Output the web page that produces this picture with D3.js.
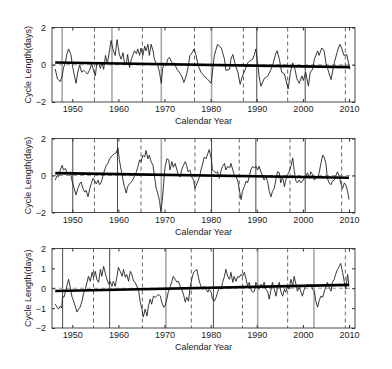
<!DOCTYPE html>
<html lang="en">
<head>
	<meta charset="UTF-8">
	<title>Cycle length</title>
	<script src="https://cdn.jsdelivr.net/npm/d3@7"></script>
	<style>
		body { margin: 0; background: #fff; }
		text { font-family: "Liberation Sans", Arial, sans-serif; font-size: 9px; fill: #222; }
	</style>
</head>
<body>
<script type="text/javascript">
	// values
	var p1Years = [1946.3, 1946.8, 1947.4, 1947.8, 1948.1, 1948.5, 1948.8, 1949.2, 1949.7, 1950.1, 1950.4, 1950.8, 1951.2, 1951.6, 1952.0, 1952.5, 1952.9, 1953.3, 1953.8, 1954.2, 1954.6, 1955.0, 1955.3, 1955.7, 1956.1, 1956.4, 1956.8, 1957.2, 1957.6, 1958.0, 1958.4, 1958.9, 1959.3, 1959.7, 1960.2, 1960.6, 1961.0, 1961.3, 1961.7, 1962.0, 1962.4, 1962.8, 1963.1, 1963.5, 1963.9, 1964.2, 1964.6, 1964.9, 1965.3, 1965.7, 1966.0, 1966.4, 1966.7, 1967.1, 1967.5, 1967.8, 1968.2, 1968.5, 1968.9, 1969.3, 1969.6, 1970.0, 1970.3, 1970.7, 1971.1, 1971.4, 1971.8, 1972.1, 1972.7, 1973.2, 1973.7, 1974.2, 1974.7, 1975.1, 1975.5, 1976.0, 1976.4, 1976.8, 1977.3, 1977.9, 1978.6, 1979.4, 1980.1, 1980.8, 1981.5, 1982.3, 1983.0, 1983.3, 1984.1, 1984.4, 1984.8, 1985.4, 1985.9, 1986.4, 1986.9, 1987.5, 1988.0, 1988.5, 1989.1, 1989.5, 1989.8, 1990.2, 1990.5, 1990.9, 1991.6, 1992.4, 1993.1, 1993.6, 1994.0, 1994.4, 1994.9, 1995.4, 1996.0, 1996.5, 1996.8, 1997.3, 1997.8, 1998.3, 1998.7, 1999.2, 1999.8, 2000.1, 2000.6, 2001.2, 2001.6, 2002.1, 2002.5, 2003.2, 2003.5, 2004.1, 2004.6, 2005.0, 2005.6, 2006.1, 2006.8, 2007.4, 2008.0, 2008.4, 2008.9, 2009.5, 2009.9, 2010.2];
	var p1Values = [-0.23, -0.77, -0.9, -0.6, -0.15, 0.1, 0.55, 0.85, 0.55, -0.15, -0.5, -1.0, -0.4, 0, -0.4, -0.3, -0.4, -0.5, -0.25, 0.05, -0.3, -0.6, 0.05, 0.1, -0.2, 0.15, -0.25, 0.5, 0.05, 0.65, 1.3, 0.75, 0.5, 1.35, 0.55, 0.3, 0.65, 0.1, 0.05, 0.55, -0.15, 0.3, 0.5, 0.75, 0.6, 0.85, 0.5, 0.9, 0.5, 1.0, 0.75, 1.1, 0.5, 1.1, 0.75, 0.3, 0.05, 0, -0.4, -1.0, -0.2, 0.1, -0.05, 0.3, 0.4, 0.2, 0.05, 0.1, -0.25, -0.4, -0.6, -0.95, -0.6, -0.15, 0.5, 0.65, 0.85, 0.55, -0.05, -0.4, -0.6, -0.8, -1.0, 0.5, 1.1, 0.9, 0.3, -0.3, -0.25, 0.3, 0.55, -0.05, -0.4, -1.05, -0.6, -0.25, 0.1, 0.2, 0.3, 0.55, 0.85, 0.1, -0.6, -1.15, -0.75, -0.6, -0.25, 0.1, 0.5, 0.75, 0.3, -0.4, -0.5, -1.0, -1.3, -0.4, 0.1, -0.25, -0.75, -1.0, -0.6, -0.85, -0.4, -1.15, -0.4, -0.25, 0.3, 0.75, 0.5, 0.9, 0.75, 0.1, -0.4, -0.8, 0.1, 0.65, 1.1, 0.9, 0.5, 0.55, 0.1, -0.25];

	var p2Years = [1946.3, 1946.7, 1947.0, 1947.4, 1947.8, 1948.1, 1948.5, 1948.8, 1949.2, 1949.6, 1949.9, 1950.3, 1950.8, 1951.2, 1951.6, 1951.9, 1952.3, 1952.7, 1953.0, 1953.4, 1953.8, 1954.1, 1954.5, 1954.8, 1955.2, 1955.6, 1955.9, 1956.3, 1956.6, 1957.0, 1957.4, 1957.7, 1958.1, 1958.4, 1958.8, 1959.2, 1959.5, 1959.9, 1960.2, 1960.6, 1961.0, 1961.3, 1961.7, 1962.0, 1962.4, 1962.8, 1963.1, 1963.5, 1963.9, 1964.2, 1964.6, 1964.9, 1965.3, 1965.7, 1966.0, 1966.4, 1966.7, 1967.1, 1967.5, 1967.8, 1968.2, 1968.5, 1968.9, 1969.2, 1969.5, 1969.8, 1970.1, 1970.5, 1970.9, 1971.2, 1971.6, 1971.9, 1972.3, 1972.7, 1973.0, 1973.4, 1973.7, 1974.1, 1974.5, 1974.8, 1975.1, 1975.5, 1975.9, 1976.3, 1976.6, 1977.0, 1977.6, 1977.9, 1978.3, 1978.6, 1979.0, 1979.4, 1979.7, 1980.1, 1980.4, 1980.8, 1981.2, 1981.5, 1981.9, 1982.3, 1982.6, 1983.0, 1983.3, 1983.7, 1984.1, 1984.4, 1984.8, 1985.1, 1985.5, 1985.9, 1986.2, 1986.6, 1986.9, 1987.3, 1987.7, 1988.0, 1988.4, 1988.7, 1989.1, 1989.5, 1989.8, 1990.2, 1990.5, 1990.9, 1991.3, 1991.6, 1992.0, 1992.4, 1992.7, 1993.1, 1993.4, 1993.8, 1994.2, 1994.5, 1994.9, 1995.2, 1995.6, 1996.0, 1996.3, 1996.7, 1997.0, 1997.4, 1997.8, 1998.1, 1998.5, 1998.8, 1999.2, 1999.6, 1999.9, 2000.3, 2000.6, 2001.0, 2001.4, 2001.7, 2002.1, 2002.5, 2002.8, 2003.2, 2003.5, 2003.9, 2004.3, 2004.6, 2005.0, 2005.3, 2005.7, 2006.1, 2006.4, 2006.8, 2007.1, 2007.5, 2007.9, 2008.2, 2008.6, 2009.0, 2009.3, 2009.7, 2010.0];
	var p2Values = [-0.25, 0, -0.07, 0.3, 0.55, 0.3, 0.38, 0.2, 0.1, 0.2, -0.25, -0.6, -1.05, -0.7, -0.45, -0.35, -0.7, -0.9, -0.8, -1.15, -0.7, -0.45, -0.15, -0.25, -0.45, -0.25, -0.5, -0.35, -0.07, 0.3, 0.55, 0.65, 0.9, 1.0, 1.1, 1.2, 1.2, 1.5, 0.85, 0.3, -0.25, -0.6, -0.95, -0.6, -0.45, -0.35, -0.25, 0, 0.2, 0.45, 0.85, 0.75, 1.1, 1.0, 1.35, 0.9, 1.1, 0.75, 0.55, 0, -0.7, -0.95, -1.35, -1.95, -1.35, -0.45, 0.45, 0.9, 0.85, 0.3, 0.75, 0.45, 0.65, 0.3, 0, -0.07, 0.3, 0.55, 0.75, 0.55, 0.2, 0.3, -0.07, -0.25, -0.7, -0.45, -0.05, 0.3, 0.65, 1.0, 0.9, 1.2, 1.4, 0.95, 0.3, 0.2, 0.15, 0.2, -0.15, 0.3, 0.5, 0.65, 0.3, 0.5, 0.4, 0.65, 0.3, 0.05, -0.05, -0.3, -0.75, -1.3, -0.85, -0.6, -0.3, -0.4, -0.05, 0.3, 0.5, 0.4, 0.5, 0.3, 0.5, 0.2, -0.05, -0.25, -0.05, -0.4, -0.85, -1.15, -0.85, -0.7, -0.15, 0.2, 0.15, -0.4, -0.05, -0.6, -0.25, 0.05, 0.2, 0.5, 0.95, 0.3, -0.3, -0.4, -0.25, -0.4, -0.3, -0.15, -0.05, 0.15, -0.15, 0.2, 0.05, -0.25, -0.15, -0.05, 0.1, 0.65, 1.1, 1.0, 0.65, -0.15, -0.4, -0.5, -0.3, -0.25, -0.05, 0.2, -0.05, -0.4, -0.7, -0.4, -0.5, -0.85, -1.3];

	var p3Years = [1946.3, 1946.7, 1947.0, 1947.4, 1947.7, 1947.9, 1948.2, 1948.5, 1948.8, 1949.2, 1949.6, 1949.9, 1950.3, 1950.7, 1951.0, 1951.4, 1951.7, 1952.1, 1952.5, 1952.8, 1953.2, 1953.5, 1953.9, 1954.3, 1954.6, 1955.0, 1955.3, 1955.7, 1956.1, 1956.4, 1956.8, 1957.1, 1957.5, 1957.9, 1958.2, 1958.6, 1958.9, 1959.3, 1959.7, 1960.0, 1960.4, 1960.8, 1961.1, 1961.5, 1961.8, 1962.2, 1962.6, 1962.9, 1963.3, 1963.6, 1964.0, 1964.4, 1964.7, 1965.1, 1965.4, 1965.8, 1966.2, 1966.5, 1966.9, 1967.2, 1967.6, 1968.0, 1968.3, 1968.7, 1969.1, 1969.4, 1969.8, 1970.1, 1970.5, 1970.8, 1971.2, 1971.6, 1971.9, 1972.3, 1972.7, 1973.0, 1973.4, 1973.7, 1974.1, 1974.5, 1974.8, 1975.2, 1975.5, 1975.9, 1976.3, 1976.6, 1977.0, 1977.3, 1977.6, 1977.9, 1978.3, 1978.6, 1979.0, 1979.4, 1979.7, 1980.1, 1980.4, 1980.8, 1981.2, 1981.5, 1981.9, 1982.3, 1982.6, 1983.0, 1983.3, 1983.7, 1984.1, 1984.4, 1984.8, 1985.1, 1985.5, 1985.9, 1986.2, 1986.6, 1986.9, 1987.3, 1987.7, 1988.0, 1988.4, 1988.7, 1989.1, 1989.5, 1989.8, 1990.2, 1990.5, 1990.9, 1991.3, 1991.6, 1992.0, 1992.4, 1992.7, 1993.1, 1993.4, 1993.8, 1994.2, 1994.5, 1994.9, 1995.2, 1995.6, 1996.0, 1996.3, 1996.7, 1997.0, 1997.4, 1997.8, 1998.1, 1998.5, 1998.8, 1999.2, 1999.6, 1999.9, 2000.3, 2000.6, 2001.0, 2001.4, 2001.7, 2002.1, 2002.5, 2002.8, 2003.2, 2003.5, 2003.9, 2004.3, 2004.6, 2005.0, 2005.3, 2005.7, 2006.1, 2006.4, 2006.8, 2007.1, 2007.5, 2007.9, 2008.2, 2008.6, 2009.0, 2009.3, 2009.7, 2010.0];
	var p3Values = [-0.8, -0.95, -1.05, -0.9, -1.0, -0.4, -0.45, -0.2, 0.1, 0.45, 0, -0.4, -0.65, -0.95, -1.2, -1.05, -0.95, -0.65, -0.2, -0.05, 0.3, 0.6, 0.35, 0.8, 0.55, 0.85, 0.45, 0.3, 0.95, 0.6, 1.1, 0.8, 0.45, 0.2, 0.35, 0.1, 0.35, 0.1, 0.6, 1.05, 0.85, 0.6, 0.95, 0.55, 0.7, 0.35, 0.85, 0.7, 0.35, 0.3, 0.1, -0.15, -0.65, -1.05, -1.45, -1.05, -1.4, -0.9, -0.55, -0.8, -0.4, -0.45, -0.4, -0.3, -0.4, -0.7, -0.95, -0.9, -0.55, -0.2, 0.05, 0.35, 0.6, 0.45, 0.3, 0.35, 0.1, -0.05, -0.3, -0.7, -0.45, -0.65, -0.05, 0.45, 0.8, 0.85, 0.95, 0.6, 0.3, 0.1, -0.05, 0.1, -0.05, -0.2, -0.05, -0.2, -0.55, -0.65, -0.45, -0.2, 0.05, -0.05, 0.3, 0.6, 0.95, 0.6, 0.45, 0.8, 0.3, 0.6, 0.35, 0.6, 0.55, 0.7, 0.6, 0.8, 0.45, 0.1, 0.3, -0.05, -0.2, -0.15, 0.3, 0.1, -0.05, 0.2, 0.1, 0.3, -0.05, -0.2, -0.55, -0.05, 0.3, -0.05, -0.4, 0.1, 0.3, -0.15, -0.4, -0.05, -0.2, 0.1, -0.05, 0.45, 0.1, 0.6, 0.2, -0.15, 0.05, -0.2, -0.4, -0.05, 0.1, 0.2, 0.1, 0.2, -0.05, -0.15, -0.65, -0.95, -0.65, -0.4, -0.45, -0.2, 0.1, 0.3, 0.05, -0.15, 0.3, 0.45, 0.7, 0.95, 1.1, 1.25, 0.8, 0.3, -0.05, 0.7, 0.1];

	// linear trend: [year, value] at both ends
	var p1Trend = [[1946.3, 0.12], [2010.2, -0.13]];
	var p2Trend = [[1946.3, 0.13], [2010.0, -0.12]];
	var p3Trend = [[1946.3, -0.14], [2010.0, 0.17]];

	// vertical markers: solid (maxima), gray solid, dashed (minima)
	var p1Solid = [1990.0, 2000.5];
	var p1Gray = [1947.8, 1958.6, 1969.3, 1980.2];
	var p1Dashed = [1954.8, 1965.2, 1976.5, 1987.1, 1996.7, 2009.2];
	var p2Solid = [1950.1, 1959.8, 1980.2, 1989.8, 2000.5];
	var p2Gray = [1969.3];
	var p2Dashed = [1954.8, 1964.9, 1976.6, 1986.2, 1997.2, 2008.4];
	var p3Solid = [1947.9, 1958.1, 1980.6];
	var p3Gray = [1970.3, 1990.2, 2002.4];
	var p3Dashed = [1954.6, 1965.2, 1975.8, 1986.9, 1996.7, 2009.2];

	var xTicks = [1950, 1960, 1970, 1980, 1990, 2000, 2010];
	var yTicksShort = [-2, 0, 2];
	var yTicksFull = [-2, -1, 0, 1, 2];

	var W = 392, H = 369;
	var left = 52, right = 355;

	var svg = d3.select('body').append('svg')
		.attr('width', W)
		.attr('height', H);

	var x = d3.scaleLinear()
		.domain([1945.6, 2011.3])
		.range([left, right]);

	var panels = [
		{years: p1Years, values: p1Values, trend: p1Trend, solid: p1Solid, gray: p1Gray, dashed: p1Dashed, ticks: yTicksShort, top: 27.5, bottom: 102},
		{years: p2Years, values: p2Values, trend: p2Trend, solid: p2Solid, gray: p2Gray, dashed: p2Dashed, ticks: yTicksShort, top: 138.5, bottom: 212.5},
		{years: p3Years, values: p3Values, trend: p3Trend, solid: p3Solid, gray: p3Gray, dashed: p3Dashed, ticks: yTicksFull, top: 248.5, bottom: 328}
	];

	panels.forEach(function (p) {
		var y = d3.scaleLinear().domain([-2, 2]).range([p.bottom, p.top]);
		var g = svg.append('g');

		function vlines(list, color, width, dash) {
			g.selectAll(null)
				.data(list)
				.enter().append('line')
				.attr('x1', function (d) { return x(d); })
				.attr('x2', function (d) { return x(d); })
				.attr('y1', p.top)
				.attr('y2', p.bottom)
				.style('stroke', color)
				.style('stroke-width', width)
				.style('stroke-dasharray', dash);
		}
		vlines(p.gray, '#a8a8a8', 1.6, null);
		vlines(p.solid, '#333', 0.9, null);
		vlines(p.dashed, '#555', 0.9, '4,3');

		// zero reference
		g.append('line')
			.attr('x1', left).attr('x2', right)
			.attr('y1', y(0)).attr('y2', y(0))
			.style('stroke', '#999')
			.style('stroke-width', 1)
			.style('stroke-dasharray', '4,3');

		var line = d3.line()
			.x(function (d) { return x(d[0]); })
			.y(function (d) { return y(d[1]); });

		g.append('path')
			.datum(d3.zip(p.years, p.values))
			.attr('d', line)
			.style('fill', 'none')
			.style('stroke', '#222')
			.style('stroke-width', 0.9);

		g.append('path')
			.datum(p.trend)
			.attr('d', line)
			.style('fill', 'none')
			.style('stroke', '#000')
			.style('stroke-width', 2.6);

		// axes, MATLAB style: ticks inward on all four sides
		g.append('g')
			.attr('transform', 'translate(0,' + p.bottom + ')')
			.call(d3.axisBottom(x).tickValues(xTicks).tickFormat(d3.format('d')).tickSizeInner(-3).tickSizeOuter(0).tickPadding(4));
		g.append('g')
			.attr('transform', 'translate(0,' + p.top + ')')
			.call(d3.axisTop(x).tickValues(xTicks).tickFormat('').tickSizeInner(-3).tickSizeOuter(0));
		g.append('g')
			.attr('transform', 'translate(' + left + ',0)')
			.call(d3.axisLeft(y).tickValues(p.ticks).tickFormat(d3.format('d')).tickSizeInner(-3).tickSizeOuter(0).tickPadding(6));
		g.append('g')
			.attr('transform', 'translate(' + right + ',0)')
			.call(d3.axisRight(y).tickValues(p.ticks).tickFormat('').tickSizeInner(-3).tickSizeOuter(0));

		g.selectAll('.domain').remove();
		g.selectAll('.tick line').style('stroke', '#333');
		g.selectAll('.tick text').style('font-size', '9px').style('fill', '#222')
			.style('font-family', '"Liberation Sans", Arial, sans-serif');

		g.append('rect')
			.attr('x', left).attr('y', p.top)
			.attr('width', right - left).attr('height', p.bottom - p.top)
			.style('fill', 'none')
			.style('stroke', '#333')
			.style('stroke-width', 0.9);

		g.append('text')
			.attr('x', (left + right) / 2)
			.attr('y', p.bottom + 22)
			.attr('text-anchor', 'middle')
			.text('Calendar Year');

		g.append('text')
			.attr('transform', 'translate(31,' + ((p.top + p.bottom) / 2) + ') rotate(-90)')
			.attr('text-anchor', 'middle')
			.text('Cycle Length(days)');
	});
</script>
</body>
</html>
